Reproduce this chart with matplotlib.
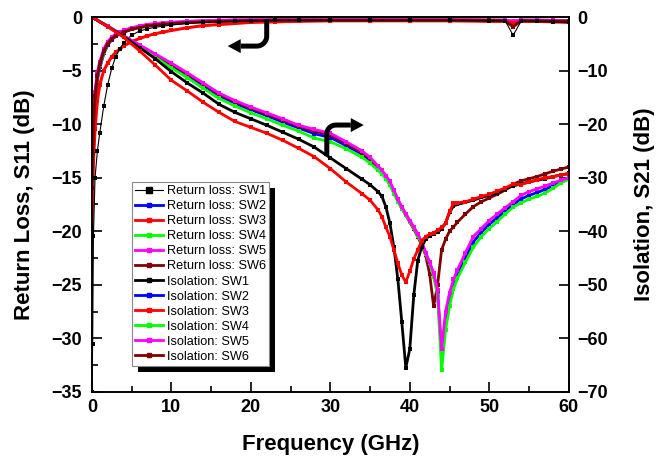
import numpy as np
import matplotlib
matplotlib.use("Agg")
import matplotlib.pyplot as plt
from matplotlib.lines import Line2D
from matplotlib.patches import Polygon, Rectangle
from matplotlib.transforms import Affine2D, ScaledTranslation, IdentityTransform

plt.rcParams['font.family'] = ['Liberation Sans', 'DejaVu Sans']

# ---- data ----
# return loss (left axis, dB)
f_rl = [0, 0.1, 0.2, 0.4, 0.7, 1, 1.5, 2, 2.5, 3, 3.5, 4, 5, 6, 7, 8, 9, 10, 12, 14,
        16, 18, 20, 23, 26, 30, 35, 40, 45, 50, 52, 53, 54, 56, 58, 60]
rl_sw1 = [-35, -30.5, -20.4, -15, -12.5, -10.8, -8.3, -6.3, -4.8, -3.7, -3.0, -2.4, -1.7, -1.3,
          -1.1, -0.95, -0.85, -0.75, -0.6, -0.5, -0.45, -0.4, -0.35, -0.3, -0.3, -0.3, -0.3,
          -0.3, -0.3, -0.35, -0.35, -1.7, -0.4, -0.4, -0.45, -0.5]
rl_sw2 = [-17, -13.5, -10.5, -7.8, -5.8, -4.7, -3.4, -2.6, -2.1, -1.8, -1.55, -1.4, -1.1, -0.9,
          -0.8, -0.7, -0.62, -0.55, -0.45, -0.4, -0.35, -0.32, -0.3, -0.28, -0.27, -0.27, -0.27,
          -0.27, -0.28, -0.3, -0.3, -0.4, -0.3, -0.3, -0.32, -0.35]
rl_sw3 = [-20, -17, -13.5, -10.5, -7.8, -6.3, -5.0, -4.3, -3.7, -3.3, -3.0, -2.7, -2.3, -2.0,
          -1.75, -1.55, -1.4, -1.25, -1.0, -0.8, -0.7, -0.6, -0.5, -0.45, -0.4, -0.35, -0.35,
          -0.35, -0.35, -0.4, -0.4, -0.6, -0.4, -0.4, -0.45, -0.5]
rl_sw4 = [-16, -13, -10.2, -7.5, -5.6, -4.5, -3.3, -2.5, -2.0, -1.7, -1.5, -1.35, -1.05, -0.88,
          -0.75, -0.66, -0.6, -0.53, -0.43, -0.38, -0.33, -0.3, -0.28, -0.27, -0.26, -0.26, -0.26,
          -0.27, -0.28, -0.3, -0.3, -0.4, -0.3, -0.3, -0.32, -0.35]
rl_sw5 = [-15, -12, -9.5, -7, -5.2, -4.2, -3.0, -2.3, -1.9, -1.6, -1.4, -1.25, -1.0, -0.85,
          -0.7, -0.6, -0.55, -0.5, -0.4, -0.35, -0.3, -0.28, -0.25, -0.25, -0.25, -0.25, -0.25,
          -0.25, -0.25, -0.28, -0.3, -0.4, -0.3, -0.3, -0.32, -0.35]
rl_sw6 = [-16, -12.8, -10, -7.4, -5.5, -4.4, -3.2, -2.5, -2.05, -1.75, -1.55, -1.4, -1.15,
          -0.98, -0.85, -0.75, -0.68, -0.62, -0.52, -0.45, -0.4, -0.36, -0.33, -0.3, -0.3, -0.3,
          -0.3, -0.3, -0.3, -0.32, -0.35, -0.9, -0.35, -0.35, -0.38, -0.4]

# isolation (right axis, dB)
f_iso = [0, 2, 4, 6, 8, 10, 12, 14, 16, 18, 20, 22, 24, 26, 28, 30, 32, 34, 35, 36,
         36.5, 37, 37.5, 38, 38.5, 39, 39.5, 40, 40.5, 41, 41.5, 42, 42.5, 43, 43.5, 44,
         44.5, 45, 45.5, 46, 47, 48, 49, 50, 51, 52, 53, 54, 55, 56, 57, 58, 59, 60]
iso_sw1 = [0, -1.8, -3.6, -5.7, -7.8, -10.2, -12.3, -14.2, -16.3, -17.8, -19.0, -20.2, -21.5,
           -22.8, -24.3, -26.3, -28.3, -30.3, -31.3, -32.6,
           -33.5, -35.5, -38.5, -43, -49, -57, -65.5, -62, -52, -45.5, -42.9, -41.5, -40.8,
           -40.5, -40.2, -39.6, -38.5, -36.5, -35.3, -35.0,
           -34.6, -34.2, -33.7, -33.3, -32.8, -32.2, -31.5, -31.2, -30.8, -30.5, -30.2, -29.8,
           -29.5, -29.2]
iso_sw2 = [0, -1.7, -3.55, -5.4, -7.2, -9.0, -10.8, -12.8, -14.7, -16.1, -17.3, -18.4, -19.6,
           -20.7, -21.8, -22.5, -24.0, -25.6, -26.8, -28.2,
           -29.0, -30.0, -31.0, -32.6, -34.2, -35.6, -36.8, -38.1, -39.3, -40.6, -42.1, -44.1,
           -45.9, -48.1, -51.5, -63, -56.5, -52.5, -50, -48,
           -45, -42, -40.2, -38.7, -37.5, -36.2, -35, -34, -33.3, -32.8, -32.2, -31.5, -30.8,
           -30.2]
iso_sw3 = [0, -1.8, -3.8, -6.3, -9.0, -11.8, -13.8, -15.9, -17.8, -19.5, -20.6, -21.7, -23.0,
           -24.5, -26.1, -28.3, -30.8, -33.0, -34.2, -36.0,
           -37.3, -39.3, -41, -43.5, -46, -48.2, -49.5, -47.5, -45.2, -43.5, -41.8, -41, -40.6,
           -40.3, -39.8, -39.3, -38.5, -36.3, -34.8, -34.7,
           -34.5, -34.0, -33.5, -33.1, -32.5, -31.9, -31.2, -31.3, -30.8, -30.4, -30.0, -29.8,
           -29.5, -29.3]
iso_sw4 = [0, -1.7, -3.6, -5.5, -7.5, -9.5, -11.3, -13.3, -15.2, -16.6, -17.9, -19.0, -20.2,
           -21.3, -22.6, -23.3, -24.6, -26.2, -27.3, -28.6,
           -29.3, -30.3, -31.4, -33.0, -34.5, -35.8, -37, -38.2, -39.4, -40.8, -42.3, -44.2,
           -46, -48.5, -52, -66, -58.5, -54, -50.8, -48.8,
           -45.8, -43, -41, -39.5, -38.2, -36.8, -35.5, -34.7, -34.0, -33.5, -32.9, -32, -31,
           -30.3]
iso_sw5 = [0, -1.7, -3.5, -5.2, -6.9, -8.6, -10.4, -12.3, -14.2, -15.6, -16.8, -17.9, -19.0,
           -20.2, -21.0, -21.7, -23.3, -25.0, -26.2, -27.8,
           -28.6, -29.6, -30.7, -32.3, -34.0, -35.5, -36.7, -38, -39.2, -40.5, -42, -44, -45.8,
           -47.8, -51, -62, -55, -51.5, -49, -47.2,
           -44, -41, -39.5, -38, -36.8, -35.6, -34.5, -33.3, -32.6, -32.1, -31.6, -31, -30.5,
           -30]
iso_sw6 = [0, -1.7, -3.55, -5.4, -7.1, -8.8, -10.6, -12.5, -14.4, -15.8, -17.0, -18.1, -19.2,
           -20.4, -21.3, -22.0, -23.6, -25.3, -26.5, -28.0,
           -28.9, -29.9, -31.0, -32.6, -34.3, -35.8, -37.0, -38.3, -39.6, -41.0, -42.6, -44.5,
           -48, -54, -50, -43.5, -41.5, -40, -39.2, -38.3,
           -36.8, -35.4, -34.5, -33.8, -33.1, -32.3, -31.2, -30.6, -30.2, -29.8, -29.3, -28.8,
           -28.4, -28]

colors = ['black', '#0000ff', '#ff0000', '#00ff00', '#ff00ff', '#800000']
sw_names = ['SW1', 'SW2', 'SW3', 'SW4', 'SW5', 'SW6']
rl_all = [rl_sw1, rl_sw2, rl_sw3, rl_sw4, rl_sw5, rl_sw6]
iso_all = [iso_sw1, iso_sw2, iso_sw3, iso_sw4, iso_sw5, iso_sw6]

fig = plt.figure(figsize=(6.56, 4.61), dpi=100)
ax = fig.add_axes([0.140, 0.150, 0.727, 0.813])
ax2 = ax.twinx()

handles = {}
# return loss curves, SW1 thin on top
for i in [1, 3, 4, 2, 5, 0]:
    if i == 0:
        h, = ax.plot(f_rl, rl_all[i], color='black', lw=0.8, marker='s', ms=3.5, mew=0, zorder=3)
    else:
        h, = ax.plot(f_rl, rl_all[i], color=colors[i], lw=2.2, marker='s', ms=3.5, mew=0)
    handles['rl', i] = h

for i in [1, 5, 3, 4, 0, 2]:
    h, = ax2.plot(f_iso, iso_all[i], color=colors[i], lw=2.0, marker='s', ms=3.5, mew=0)
    handles['iso', i] = h

ax.set_xlim(0, 60)
ax.set_ylim(-35, 0)
ax2.set_ylim(-70, 0)

ax.set_xticks(range(0, 61, 10))
ax.set_xticks(range(5, 60, 10), minor=True)
ax.set_yticks(range(-35, 1, 5))
ax.set_yticks(np.arange(-32.5, 0, 5), minor=True)
ax2.set_yticks(range(-70, 1, 10))

ax.tick_params(axis='both', which='major', direction='in', length=7, width=1.2, top=False)
ax.tick_params(axis='both', which='minor', direction='in', length=4, width=1.2, top=False)
ax.tick_params(axis='y', pad=7)
ax.tick_params(axis='x', pad=5)
ax2.tick_params(axis='y', direction='in', length=7, width=1.2, pad=6)
for lab in ax.get_xticklabels() + ax.get_yticklabels() + ax2.get_yticklabels():
    lab.set_fontsize(13)
    lab.set_fontweight('bold')
for a in (ax, ax2):
    for s in a.spines.values():
        s.set_linewidth(1.2)

ax.set_xlabel('Frequency (GHz)', fontsize=16, fontweight='bold', labelpad=13)
ax.set_ylabel('Return Loss, S11 (dB)', fontsize=16, fontweight='bold', labelpad=12)
ax2.set_ylabel('Isolation, S21 (dB)', fontsize=16, fontweight='bold', labelpad=19)

# legend
leg_handles = [handles['rl', i] for i in range(6)] + [handles['iso', i] for i in range(6)]
leg_labels = ['Return loss: ' + s for s in sw_names] + ['Isolation: ' + s for s in sw_names]
proxies = []
for k, h in enumerate(leg_handles):
    lw = 0.8 if k == 0 else 2.0
    proxies.append(Line2D([], [], color=h.get_color(), lw=lw, marker='s', ms=4 if k == 0 else 3))
leg = ax2.legend(proxies, leg_labels, loc='upper left', bbox_to_anchor=(0.084, 0.56),
                 borderaxespad=0, fontsize=9.2, labelspacing=0.24, handlelength=2.2,
                 handletextpad=0.3, borderpad=0.25, fancybox=False, framealpha=1,
                 edgecolor='#888888')
leg.get_frame().set_linewidth(0.8)
leg.set_zorder(10)

# bent arrows (offsets in pixels from an anchor point in left-axis data coords)
def bent_arrow(anchor, shaft, head):
    trans = Affine2D().scale(fig.dpi / 100) + ScaledTranslation(anchor[0], anchor[1], ax.transData)
    xs, ys = zip(*shaft)
    ax2.add_artist(Line2D(xs, ys, color='black', lw=3.6, solid_capstyle='butt',
                          solid_joinstyle='round', transform=trans, zorder=6, clip_on=False))
    ax2.add_artist(Polygon(head, closed=True, facecolor='black', edgecolor='none',
                           transform=trans, zorder=6, clip_on=False))

t1 = np.linspace(0, -np.pi / 2, 12)
shaft1 = [(0, 0)] + [(-10 + 10 * np.cos(t), -17 + 10 * np.sin(t)) for t in t1] + [(-26, -27)]
bent_arrow((22.0, -0.19), shaft1, [(-26, -20), (-26, -34), (-39, -27)])

t2 = np.linspace(np.pi, np.pi / 2, 12)
shaft2 = [(0, 0)] + [(9 + 9 * np.cos(t), 22 + 9 * np.sin(t)) for t in t2] + [(24, 31)]
bent_arrow((29.56, -12.98), shaft2, [(24, 38), (24, 24), (37, 31)])

# solid black legend shadow
fig.canvas.draw()
bb = leg.get_window_extent()
shadow = Rectangle((bb.x0 + 6, bb.y0 - 6), bb.width, bb.height, facecolor='black',
                   edgecolor='none', zorder=9.9)
shadow.set_transform(IdentityTransform())
shadow.set_clip_on(False)
ax2.add_artist(shadow)

fig.savefig('out.png', dpi=100)
